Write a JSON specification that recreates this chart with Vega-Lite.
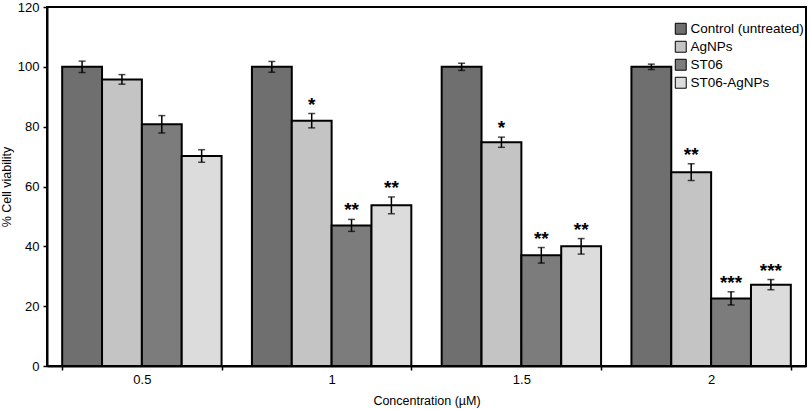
{
  "$schema": "https://vega.github.io/schema/vega-lite/v6.json",
  "width": 759,
  "height": 359,
  "autosize": {"type": "none"},
  "padding": {"left": 47, "top": 7, "right": 4, "bottom": 43},
  "background": "white",
  "config": {
    "font": "Liberation Sans",
    "view": {"stroke": "black", "strokeWidth": 2},
    "axis": {
      "domainColor": "black", "domainWidth": 2, "tickColor": "black", "tickWidth": 1.5,
      "tickSize": 4, "labelFontSize": 13, "labelColor": "black", "titleFontSize": 12.5,
      "titleFontWeight": "normal", "titleColor": "black", "grid": false, "labelFont": "Liberation Sans", "titleFont": "Liberation Sans"
    },
    "legend": {"labelFont": "Liberation Sans"}
  },
  "data": {
    "values": [
      {"conc": "0.5", "group": "Control (untreated)", "value": 100, "lo": 98.1, "hi": 101.9, "sig": ""},
      {"conc": "0.5", "group": "AgNPs", "value": 95.8, "lo": 94.2, "hi": 97.4, "sig": ""},
      {"conc": "0.5", "group": "ST06", "value": 80.8, "lo": 77.9, "hi": 83.7, "sig": ""},
      {"conc": "0.5", "group": "ST06-AgNPs", "value": 70.2, "lo": 68.1, "hi": 72.3, "sig": ""},
      {"conc": "1", "group": "Control (untreated)", "value": 100, "lo": 98.2, "hi": 101.8, "sig": ""},
      {"conc": "1", "group": "AgNPs", "value": 82, "lo": 79.6, "hi": 84.4, "sig": "*"},
      {"conc": "1", "group": "ST06", "value": 47, "lo": 45, "hi": 49, "sig": "**"},
      {"conc": "1", "group": "ST06-AgNPs", "value": 53.7, "lo": 50.9, "hi": 56.5, "sig": "**"},
      {"conc": "1.5", "group": "Control (untreated)", "value": 100, "lo": 98.8, "hi": 101.2, "sig": ""},
      {"conc": "1.5", "group": "AgNPs", "value": 74.8, "lo": 73.1, "hi": 76.5, "sig": "*"},
      {"conc": "1.5", "group": "ST06", "value": 37, "lo": 34.4, "hi": 39.6, "sig": "**"},
      {"conc": "1.5", "group": "ST06-AgNPs", "value": 40, "lo": 37.4, "hi": 42.6, "sig": "**"},
      {"conc": "2", "group": "Control (untreated)", "value": 100, "lo": 99.1, "hi": 100.9, "sig": ""},
      {"conc": "2", "group": "AgNPs", "value": 64.8, "lo": 62, "hi": 67.6, "sig": "**"},
      {"conc": "2", "group": "ST06", "value": 22.6, "lo": 20.4, "hi": 24.8, "sig": "***"},
      {"conc": "2", "group": "ST06-AgNPs", "value": 27.2, "lo": 25.5, "hi": 28.9, "sig": "***"}
    ]
  },
  "encoding": {
    "x": {
      "field": "conc", "type": "ordinal", "sort": ["0.5", "1", "1.5", "2"],
      "scale": {"paddingInner": 0.16, "paddingOuter": 0.08},
      "axis": {"labelAngle": 0, "tickBand": "extent", "title": "Concentration (µM)", "titlePadding": 8, "labelPadding": 3}
    },
    "xOffset": {
      "field": "group", "type": "nominal",
      "sort": ["Control (untreated)", "AgNPs", "ST06", "ST06-AgNPs"],
      "scale": {"paddingInner": 0, "paddingOuter": 0}
    }
  },
  "layer": [
    {
      "mark": {"type": "bar", "stroke": "black", "strokeWidth": 2},
      "encoding": {
        "y": {"field": "value", "type": "quantitative", "scale": {"domain": [0, 120], "nice": false},
              "axis": {"values": [0, 20, 40, 60, 80, 100, 120], "title": "% Cell viability", "titlePadding": 4, "labelPadding": 4}},
        "fill": {
          "field": "group", "type": "nominal",
          "sort": ["Control (untreated)", "AgNPs", "ST06", "ST06-AgNPs"],
          "scale": {"domain": ["Control (untreated)", "AgNPs", "ST06", "ST06-AgNPs"], "range": ["#6f6f6f", "#c4c4c4", "#7c7c7c", "#dcdcdc"]},
          "legend": {
            "title": null, "orient": "none", "legendX": 627, "legendY": 15,
            "symbolType": "square", "symbolSize": 120, "symbolStrokeColor": "black", "symbolStrokeWidth": 1,
            "labelFontSize": 13.5, "labelColor": "black", "rowPadding": 2, "labelOffset": 3
          }
        }
      }
    },
    {
      "mark": {"type": "rule", "color": "black", "strokeWidth": 1.5},
      "encoding": {
        "y": {"field": "lo", "type": "quantitative"},
        "y2": {"field": "hi"}
      }
    },
    {
      "transform": [{"fold": ["lo", "hi"], "as": ["bound", "bv"]}],
      "mark": {"type": "tick", "color": "black", "thickness": 1.5, "size": 7, "orient": "horizontal"},
      "encoding": {
        "y": {"field": "bv", "type": "quantitative"}
      }
    },
    {
      "transform": [{"filter": "datum.sig != ''"}],
      "mark": {"type": "text", "fontSize": 19, "fontWeight": "bold", "baseline": "alphabetic", "dy": -3, "color": "black"},
      "encoding": {
        "y": {"field": "hi", "type": "quantitative"},
        "text": {"field": "sig"}
      }
    }
  ]
}
